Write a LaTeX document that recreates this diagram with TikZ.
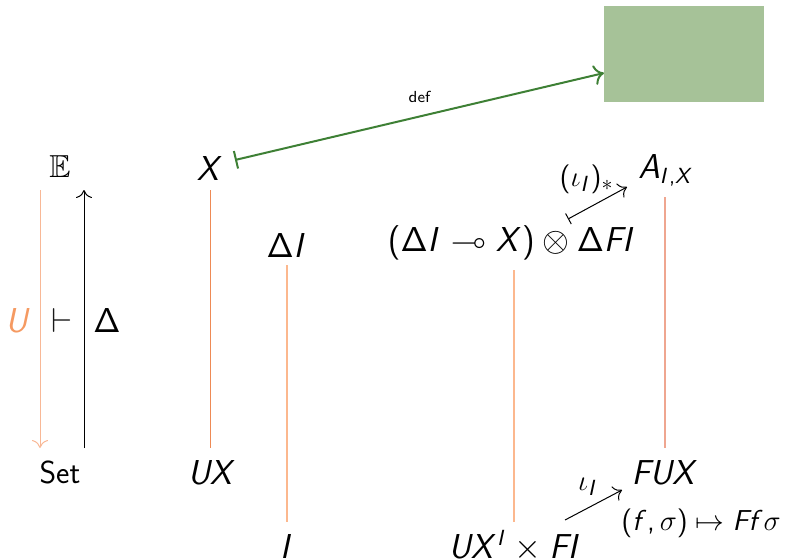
\documentclass[tikz,border=0pt]{standalone}
\usepackage{amsmath,amssymb}
\DeclareSymbolFont{sflet}{OT1}{cmss}{m}{sl}
\DeclareSymbolFont{sfop}{OT1}{cmss}{m}{n}
\DeclareMathSymbol{A}{\mathalpha}{sflet}{`A}
\DeclareMathSymbol{F}{\mathalpha}{sflet}{`F}
\DeclareMathSymbol{I}{\mathalpha}{sflet}{`I}
\DeclareMathSymbol{U}{\mathalpha}{sflet}{`U}
\DeclareMathSymbol{X}{\mathalpha}{sflet}{`X}
\DeclareMathSymbol{f}{\mathalpha}{sflet}{`f}
\DeclareMathSymbol{\Delta}{\mathalpha}{sfop}{"01}
\DeclareMathSymbol{(}{\mathopen}{sfop}{`(}
\DeclareMathSymbol{)}{\mathclose}{sfop}{`)}
\DeclareMathSymbol{,}{\mathpunct}{sfop}{`,}
\usetikzlibrary{arrows.meta}
\definecolor{uorange}{HTML}{F59A62}
\definecolor{ulight}{HTML}{F8B896}
\definecolor{xline}{HTML}{EE8A55}
\definecolor{midline}{HTML}{FCB88E}
\definecolor{aline}{HTML}{EFA690}
\definecolor{defgreen}{HTML}{3E8035}
\definecolor{boxgreen}{HTML}{A6C298}
\begin{document}
\begin{tikzpicture}[x=0.5pt,y=-0.5pt,
  obj/.style={inner sep=1pt,font=\fontsize{15.9}{18}\selectfont},
  lab/.style={inner sep=1pt,font=\fontsize{15}{18}\selectfont},
  thinline/.style={line width=0.5pt}]
\useasboundingbox (0,0) rectangle (786,559);
\fill[boxgreen] (604,6) rectangle (764,102);
\node[minimum width=0pt] (box) at (604,73) {};
\node[obj] (E) at (60,167) {$\mathbb{E}$};
\node[obj] (X) at (210,168) {$X$};
\node[obj] (DI) at (287,245) {$\Delta I$};
\node[obj] (M) at (512,243) {$(\Delta I \multimap X)\otimes \Delta FI$};
\node[obj] (A) at (666,170) {$A_{I,X}$};
\node[obj] (Set) at (60,472) {\textsf{Set}};
\node[obj] (UX) at (212,472) {$UX$};
\node[obj] (I) at (287,546) {$I$};
\node[obj] (P) at (515,546) {$UX^I\times FI$};
\node[obj] (FUX) at (665,472) {$FUX$};
\node[inner sep=1pt,font=\fontsize{14.4}{17}\selectfont] (ff) at (701,523) {$(f,\sigma)\mapsto Ff\sigma$};
\node[obj,text=uorange] (Ul) at (18,320) {$U$};
\node[obj,text=black!90] (adj) at (62,320) {$\vdash$};
\node[obj] (Dl) at (107,320) {$\Delta$};
\coordinate (Ut) at (40,190); \coordinate (Ub) at (40,448);
\coordinate (Dt) at (84,190); \coordinate (Db) at (84,448);
\draw[ulight,thinline,-{To[length=4pt,width=8pt]}] (Ut) -- (Ub);
\draw[black,thinline,-{To[length=4pt,width=8pt]}] (Db) -- (Dt);
\draw[xline,line width=0.4pt] (X.south |- 0,190) -- (X.south |- 0,448);
\draw[midline,line width=0.8pt] (287,265) -- (287,522);
\draw[midline,line width=0.8pt] (514,270) -- (514,522);
\draw[aline,line width=0.55pt] (665,197) -- (665,448);
\coordinate (s1) at (568,219); \coordinate (t1) at (627,187);
\draw[thinline,{Bar[width=6pt]}-{To[length=4pt,width=8pt]}] (s1) -- node[lab,anchor=south east,pos=0.78,inner sep=0pt] {$(\iota_I)_*$} (t1);
\coordinate (s2) at (565,520); \coordinate (t2) at (622,490);
\draw[thinline,-{To[length=4pt,width=8pt]}] (s2) -- node[lab,anchor=south east,pos=0.66,inner sep=2pt] {$\iota_I$} (t2);
\coordinate (gs) at (235,160);
\draw[defgreen,line width=1pt,{Bar[width=9pt]}-{To[length=5pt,width=10pt]}] (gs) -- node[pos=0.5,above=3pt,black,font=\sffamily\footnotesize] {def} (box.center);
\end{tikzpicture}
\end{document}
